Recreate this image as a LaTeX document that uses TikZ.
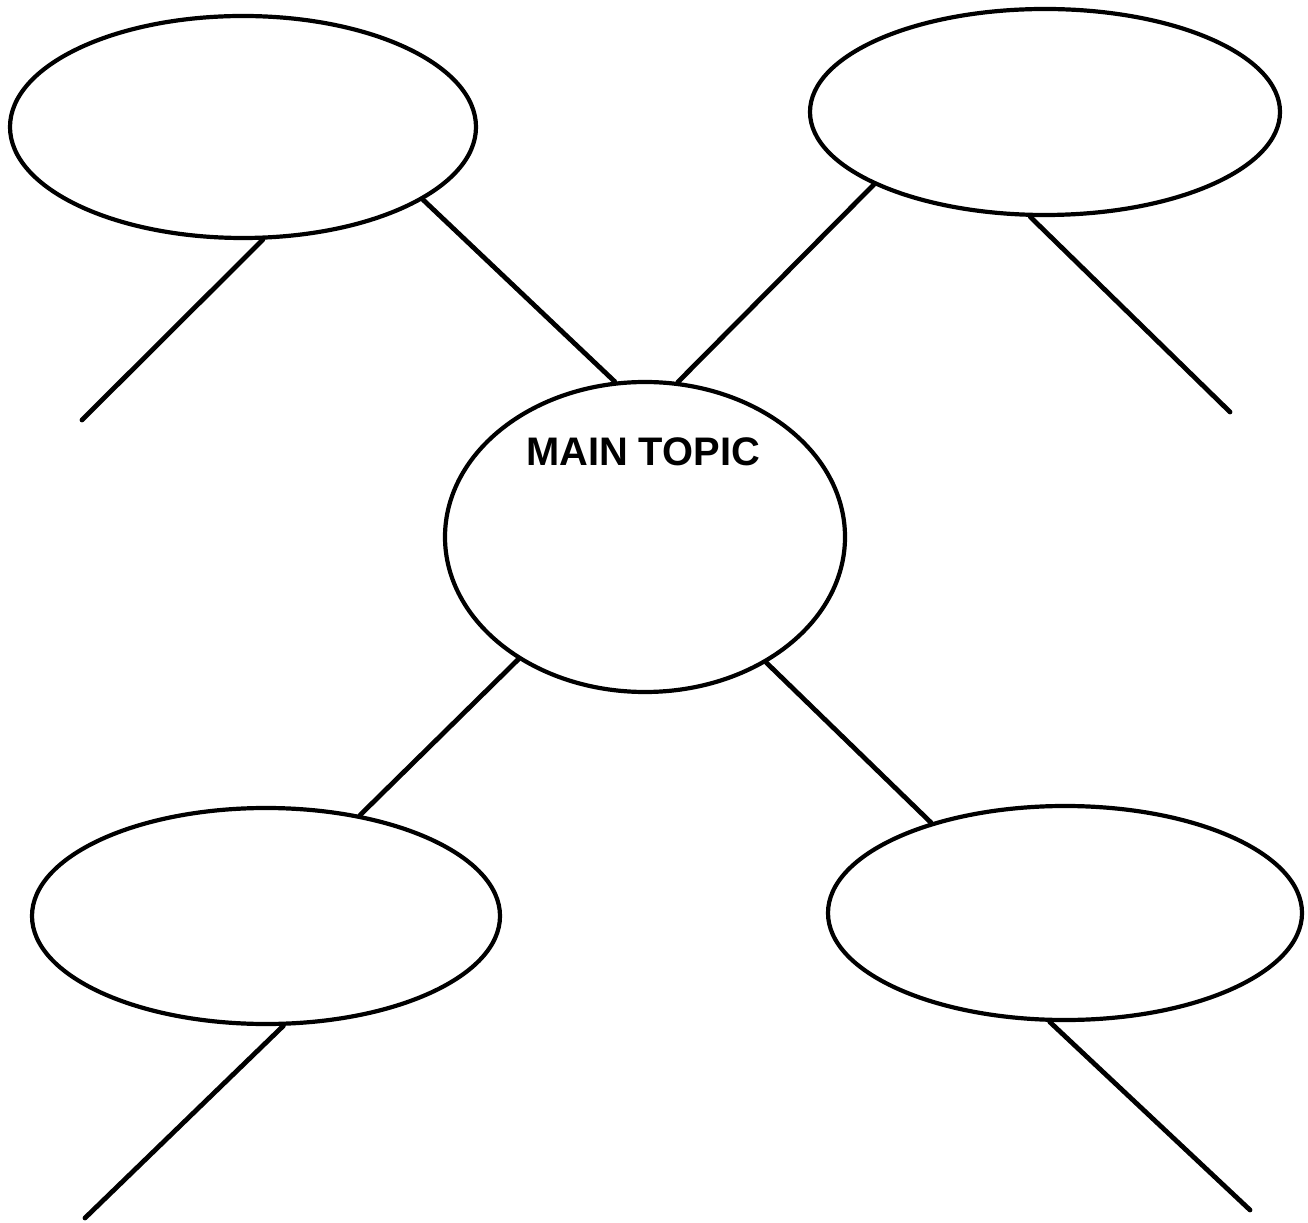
\documentclass[tikz,border=0pt]{standalone}
\usepackage{fontspec}
\setmainfont{Liberation Sans}
\usetikzlibrary{shapes.geometric}
\begin{document}
\begin{tikzpicture}[x=1bp,y=1bp,
  bubble/.style={draw=black,line width=4.2bp,ellipse,inner sep=0pt},
  link/.style={draw=black,line width=4.8bp,line cap=round}]
\useasboundingbox[fill=white] (0,0) rectangle (1308,1222);
\node[bubble,minimum width=466bp,minimum height=222bp] (tl) at (243,1095) {};
\node[bubble,minimum width=470bp,minimum height=206bp] (tr) at (1045,1110) {};
\node[bubble,minimum width=400bp,minimum height=310bp] (c) at (645,685) {};
\node[bubble,minimum width=468bp,minimum height=216bp] (bl) at (266,306) {};
\node[bubble,minimum width=474bp,minimum height=214bp] (br) at (1065,309) {};
\node[font=\bfseries\fontsize{40}{42}\selectfont] (title) at (643,770) {MAIN TOPIC};
\coordinate (tlend) at (82,802);
\coordinate (trend) at (1230,810);
\coordinate (blend) at (85,4);
\coordinate (brend) at (1250,12);
\draw[link] (tl.-80) -- (tlend);
\draw[link] (tl.-22) -- (c.101);
\draw[link] (tr.203.5) -- (c.78);
\draw[link] (tr.-98) -- (trend);
\draw[link] (c.224) -- (bl.47.5);
\draw[link] (c.-46) -- (br.146);
\draw[link] (bl.-81) -- (blend);
\draw[link] (br.-98) -- (brend);
\end{tikzpicture}
\end{document}
